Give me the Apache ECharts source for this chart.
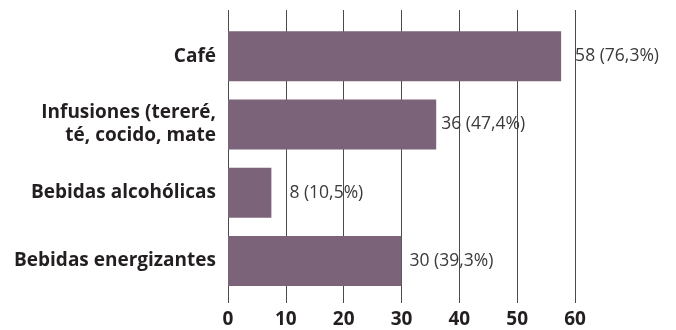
<!DOCTYPE html>
<html><head><meta charset="utf-8">
<script src="https://cdn.jsdelivr.net/npm/echarts@6/dist/echarts.min.js"></script>
<style>html,body{margin:0;padding:0;background:#fff}#c{width:676px;height:330px}</style>
</head><body><div id="c"></div>
<script>
const categories = ['Café', 'Infusiones (tereré,\nté, cocido, mate', 'Bebidas alcohólicas', 'Bebidas energizantes'];
const values = [57.6, 36, 7.5, 30];
const valueLabels = ['58 (76,3%)', '36 (47,4%)', '8 (10,5%)', '30 (39,3%)'];
const xTicks = [0, 10, 20, 30, 40, 50, 60];

const labelGap = [14, 5, 18, 8];
const chart = echarts.init(document.getElementById('c'));
chart.setOption({
  animation: false,
  grid: [
    {left: 228, right: 101, top: 10, bottom: 27},
    {left: 228, right: 101, top: 22, bottom: 35}
  ],
  xAxis: [
    {gridIndex: 0, type: 'value', min: xTicks[0], max: xTicks[xTicks.length-1], interval: 10,
     axisLine: {show: false}, axisTick: {show: false},
     splitLine: {show: true, lineStyle: {color: '#4a4a4a', width: 1}},
     axisLabel: {margin: 7, fontFamily: 'Open Sans', fontWeight: 'bold', fontSize: 19, color: '#231f20'}},
    {gridIndex: 1, type: 'value', min: xTicks[0], max: xTicks[xTicks.length-1], interval: 10, show: false}
  ],
  yAxis: [
    {gridIndex: 0, type: 'value', show: false, min: 0, max: 1},
    {gridIndex: 1, type: 'category', data: categories, inverse: true,
     axisLine: {show: false}, axisTick: {show: false}, splitLine: {show: false},
     axisLabel: {margin: 12, fontFamily: 'Open Sans', fontWeight: 'bold', fontSize: 19, color: '#231f20', lineHeight: 23, align: 'right'}}
  ],
  series: [{
    type: 'bar', xAxisIndex: 1, yAxisIndex: 1, barWidth: 50,
    itemStyle: {color: '#7b6379'},
    data: values.map((v, i) => ({value: v, label: {show: true, position: 'right', distance: labelGap[i], formatter: valueLabels[i]}})),
    label: {fontFamily: 'Open Sans', fontSize: 17.5, color: '#3a3a3a'}
  }]
});
</script></body></html>
